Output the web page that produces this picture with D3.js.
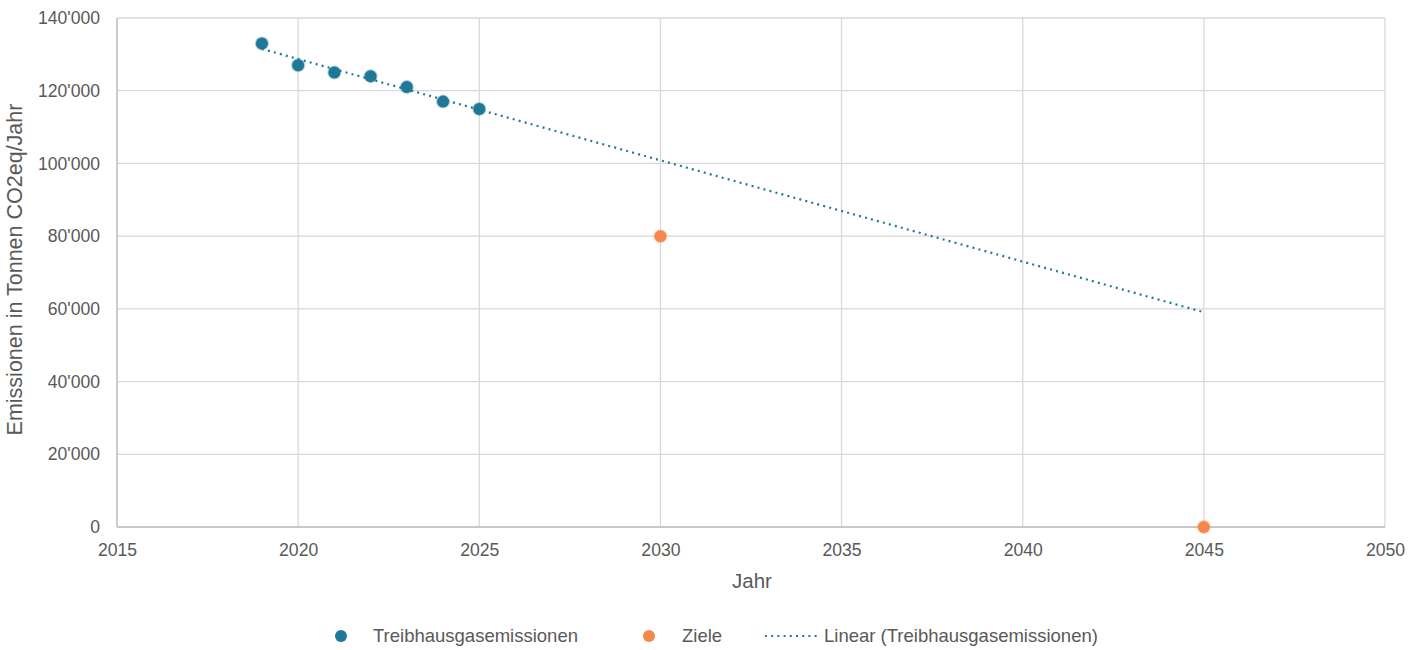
<!DOCTYPE html>
<meta charset="utf-8">
<title>Treibhausgasemissionen</title>
<style>
body { margin: 0; background: #fff; font-family: "Liberation Sans", Arial, sans-serif; }
.axis text { fill: #595959; font-size: 17.6px; font-family: "Liberation Sans", Arial, sans-serif; }
.axis path, .axis line { stroke: none; }
.grid line { stroke: #d9d9d9; stroke-width: 1.3; }
.label { fill: #595959; font-size: 20.5px; }
.legend text { fill: #595959; font-size: 18.5px; }
</style>
<body>
<svg id="chart" width="1425" height="650"></svg>
<script src="https://d3js.org/d3.v7.min.js"></script>
<script>

var years = [2019, 2020, 2021, 2022, 2023, 2024, 2025];
var emissions = [133000, 127000, 125000, 124000, 121000, 117000, 115000];
var targetYears = [2030, 2045];
var targets = [80000, 0];
var xTicks = [2015, 2020, 2025, 2030, 2035, 2040, 2045, 2050];
var yTicks = [0, 20000, 40000, 60000, 80000, 100000, 120000, 140000];
var seriesNames = ["Treibhausgasemissionen", "Ziele", "Linear (Treibhausgasemissionen)"];

var blue = "#1f7898", orange = "#f5884a";

var margin = {top: 18, right: 40, bottom: 123, left: 117},
    width = 1425 - margin.left - margin.right,
    height = 650 - margin.top - margin.bottom;

var svg = d3.select("#chart")
  .append("g")
    .attr("transform", "translate(" + margin.left + "," + margin.top + ")");

var x = d3.scaleLinear().domain([2015, 2050]).range([0, width]);
var y = d3.scaleLinear().domain([0, 140000]).range([height, 0]);

var fmt = function(d) { return d3.format(",")(d).replace(/,/g, "'"); };

// grid
svg.append("g").attr("class", "grid")
  .selectAll("line").data(yTicks).enter().append("line")
    .attr("x1", 0).attr("x2", width)
    .attr("y1", function(d) { return y(d); }).attr("y2", function(d) { return y(d); });
svg.append("g").attr("class", "grid")
  .selectAll("line").data(xTicks).enter().append("line")
    .attr("y1", 0).attr("y2", height)
    .attr("x1", function(d) { return x(d); }).attr("x2", function(d) { return x(d); });

// axis lines
svg.append("line").attr("x1", 0).attr("x2", 0).attr("y1", 0).attr("y2", height)
  .attr("stroke", "#bfbfbf").attr("stroke-width", 1.3);
svg.append("line").attr("x1", 0).attr("x2", width).attr("y1", height).attr("y2", height)
  .attr("stroke", "#bfbfbf").attr("stroke-width", 1.3);

svg.append("g").attr("class", "axis")
  .attr("transform", "translate(0," + height + ")")
  .call(d3.axisBottom(x).tickValues(xTicks).tickFormat(d3.format("d")).tickSize(0).tickPadding(17));

svg.append("g").attr("class", "axis")
  .call(d3.axisLeft(y).tickValues(yTicks).tickFormat(fmt).tickSize(0).tickPadding(17));

svg.append("text").attr("class", "label")
  .attr("x", width / 2 + 1).attr("y", height + 61)
  .attr("text-anchor", "middle").text("Jahr");

svg.append("text").attr("class", "label")
  .style("font-size", "21.5px")
  .attr("transform", "rotate(-90)")
  .attr("x", -height / 2 + 3).attr("y", -95)
  .attr("text-anchor", "middle").text("Emissionen in Tonnen CO2eq/Jahr");

// linear trend (least squares)
var mx = d3.mean(years), my = d3.mean(emissions);
var slope = d3.sum(years, function(d, i) { return (d - mx) * (emissions[i] - my); }) /
            d3.sum(years, function(d) { return (d - mx) * (d - mx); });
var trend = function(t) { return my + slope * (t - mx); };
var trendYears = [d3.min(years), d3.max(targetYears)];

svg.append("path")
  .datum(trendYears)
  .attr("fill", "none")
  .attr("stroke", blue)
  .attr("stroke-width", 2.2)
  .attr("stroke-dasharray", "2,4.2")
  .attr("d", d3.line().x(function(d) { return x(d); }).y(function(d) { return y(trend(d)); }));

svg.selectAll(".dot")
  .data(years)
  .enter().append("circle")
    .attr("class", "dot")
    .attr("r", 6)
    .attr("cx", function(d) { return x(d); })
    .attr("cy", function(d, i) { return y(emissions[i]); })
    .attr("fill", blue)
    .attr("stroke", blue).attr("stroke-opacity", 0.35).attr("stroke-width", 2);

svg.selectAll(".target")
  .data(targetYears)
  .enter().append("circle")
    .attr("class", "target")
    .attr("r", 6)
    .attr("cx", function(d) { return x(d); })
    .attr("cy", function(d, i) { return y(targets[i]); })
    .attr("fill", orange)
    .attr("stroke", orange).attr("stroke-opacity", 0.35).attr("stroke-width", 2);

// legend
var leg = d3.select("#chart").append("g").attr("class", "legend")
  .attr("transform", "translate(0,636)");
var legX = [341, 649, 765];
leg.append("circle").attr("cx", legX[0]).attr("cy", 0).attr("r", 6).attr("fill", blue);
leg.append("text").attr("x", legX[0] + 32).attr("y", 0).attr("dy", "0.35em").text(seriesNames[0]);
leg.append("circle").attr("cx", legX[1]).attr("cy", 0).attr("r", 6).attr("fill", orange);
leg.append("text").attr("x", legX[1] + 33).attr("y", 0).attr("dy", "0.35em").text(seriesNames[1]);
leg.append("line").attr("x1", legX[2]).attr("x2", legX[2] + 55).attr("y1", 0).attr("y2", 0)
  .attr("stroke", blue).attr("stroke-width", 2.2).attr("stroke-dasharray", "2,4.2");
leg.append("text").attr("x", legX[2] + 59).attr("y", 0).attr("dy", "0.35em").text(seriesNames[2]);

</script>
</body>
